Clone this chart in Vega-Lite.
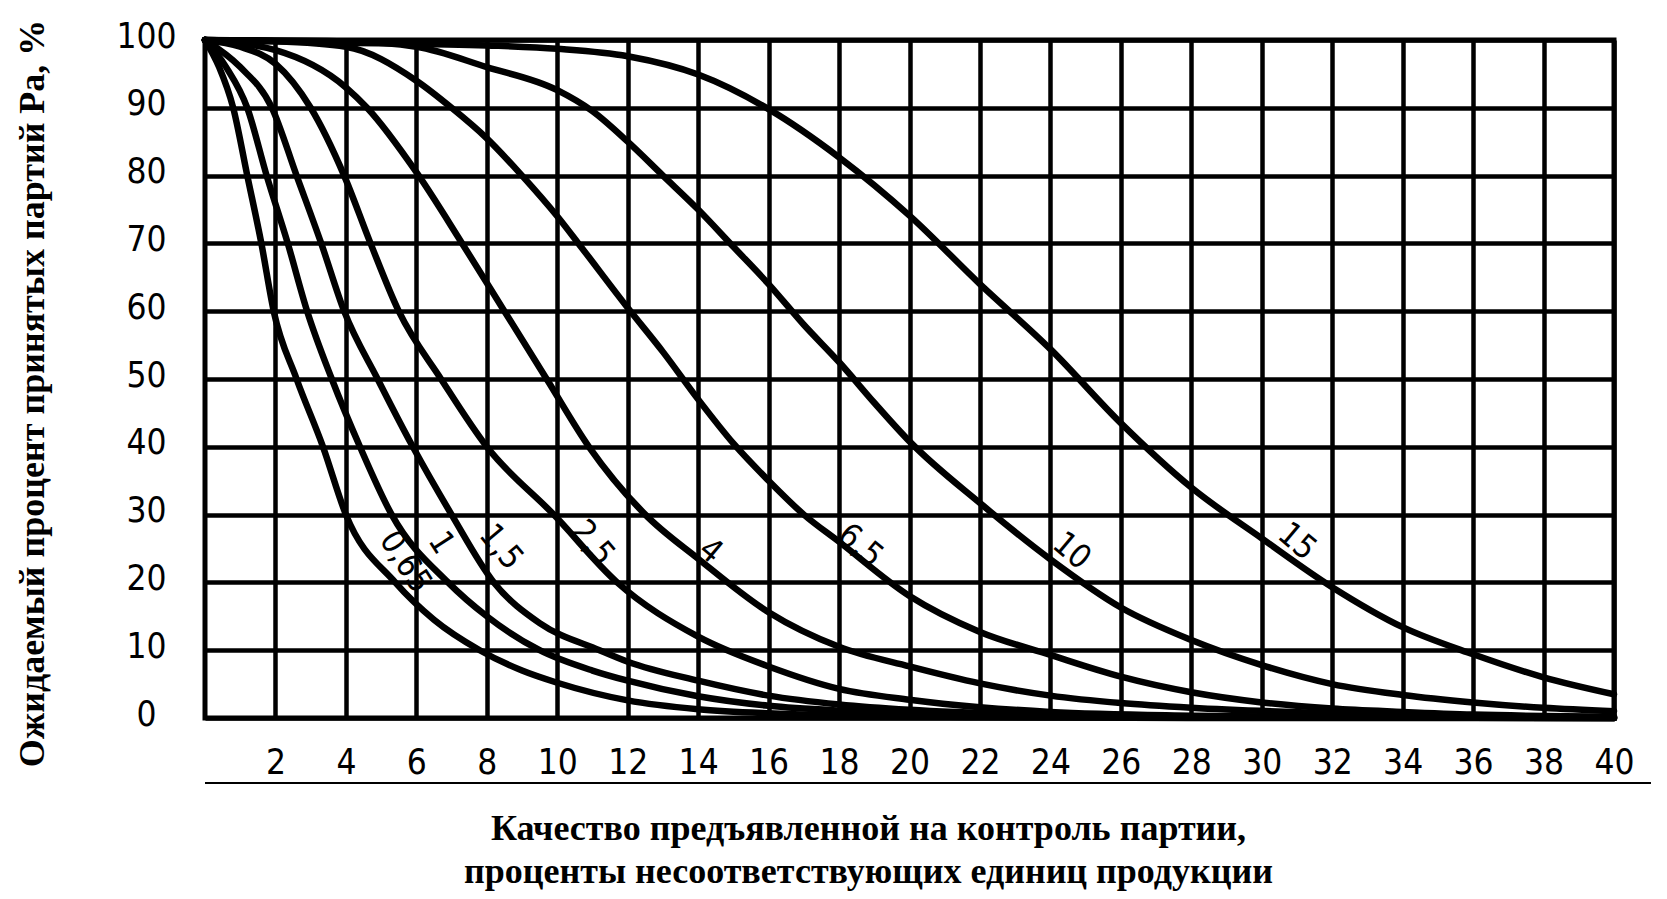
{
  "$schema": "https://vega.github.io/schema/vega-lite/v6.json",
  "width": 1409,
  "height": 678,
  "autosize": {"type": "none"},
  "padding": {"left": 205, "top": 40, "right": 53, "bottom": 181},
  "background": "white",
  "config": {
    "view": {"stroke": "black", "strokeWidth": 5},
    "text": {"font": "DejaVu Sans Condensed, DejaVu Sans, sans-serif"}
  },
  "datasets": {
    "curves": [
      {"aql": "0.65", "p": 0, "pa": 100}, {"aql": "0.65", "p": 0.4, "pa": 96}, {"aql": "0.65", "p": 0.8, "pa": 90}, {"aql": "0.65", "p": 1.2, "pa": 80}, {"aql": "0.65", "p": 1.6, "pa": 70}, {"aql": "0.65", "p": 1.95, "pa": 60}, {"aql": "0.65", "p": 2.6, "pa": 50}, {"aql": "0.65", "p": 3.35, "pa": 40}, {"aql": "0.65", "p": 4, "pa": 30}, {"aql": "0.65", "p": 5.4, "pa": 20}, {"aql": "0.65", "p": 6.5, "pa": 14.5}, {"aql": "0.65", "p": 7.8, "pa": 10}, {"aql": "0.65", "p": 9, "pa": 7}, {"aql": "0.65", "p": 10, "pa": 5.2}, {"aql": "0.65", "p": 12, "pa": 2.6}, {"aql": "0.65", "p": 14, "pa": 1.3}, {"aql": "0.65", "p": 16, "pa": 0.7}, {"aql": "0.65", "p": 18, "pa": 0.4}, {"aql": "0.65", "p": 22, "pa": 0.15}, {"aql": "0.65", "p": 28, "pa": 0}, {"aql": "0.65", "p": 40, "pa": 0},
      {"aql": "1", "p": 0, "pa": 100}, {"aql": "1", "p": 0.6, "pa": 96}, {"aql": "1", "p": 1.2, "pa": 90}, {"aql": "1", "p": 1.75, "pa": 80}, {"aql": "1", "p": 2.35, "pa": 70}, {"aql": "1", "p": 2.9, "pa": 60}, {"aql": "1", "p": 3.6, "pa": 50}, {"aql": "1", "p": 4.4, "pa": 40}, {"aql": "1", "p": 5.3, "pa": 30}, {"aql": "1", "p": 6.9, "pa": 20}, {"aql": "1", "p": 8, "pa": 15}, {"aql": "1", "p": 9.5, "pa": 10}, {"aql": "1", "p": 11, "pa": 7}, {"aql": "1", "p": 12, "pa": 5.5}, {"aql": "1", "p": 14, "pa": 3.2}, {"aql": "1", "p": 16, "pa": 1.8}, {"aql": "1", "p": 18, "pa": 1.1}, {"aql": "1", "p": 20, "pa": 0.7}, {"aql": "1", "p": 24, "pa": 0.3}, {"aql": "1", "p": 30, "pa": 0.1}, {"aql": "1", "p": 40, "pa": 0},
      {"aql": "1.5", "p": 0, "pa": 100}, {"aql": "1.5", "p": 1, "pa": 96}, {"aql": "1.5", "p": 1.9, "pa": 90}, {"aql": "1.5", "p": 2.6, "pa": 80}, {"aql": "1.5", "p": 3.3, "pa": 70}, {"aql": "1.5", "p": 3.95, "pa": 60}, {"aql": "1.5", "p": 4.9, "pa": 50}, {"aql": "1.5", "p": 5.9, "pa": 40}, {"aql": "1.5", "p": 7, "pa": 30}, {"aql": "1.5", "p": 8.2, "pa": 20}, {"aql": "1.5", "p": 9.5, "pa": 14}, {"aql": "1.5", "p": 11.2, "pa": 10}, {"aql": "1.5", "p": 12, "pa": 8.3}, {"aql": "1.5", "p": 14, "pa": 5.5}, {"aql": "1.5", "p": 16, "pa": 3.3}, {"aql": "1.5", "p": 18, "pa": 2}, {"aql": "1.5", "p": 20, "pa": 1.2}, {"aql": "1.5", "p": 24, "pa": 0.5}, {"aql": "1.5", "p": 30, "pa": 0.15}, {"aql": "1.5", "p": 40, "pa": 0},
      {"aql": "2.5", "p": 0, "pa": 100}, {"aql": "2.5", "p": 1, "pa": 99}, {"aql": "2.5", "p": 2, "pa": 96.5}, {"aql": "2.5", "p": 3, "pa": 90}, {"aql": "2.5", "p": 3.95, "pa": 80}, {"aql": "2.5", "p": 4.7, "pa": 70}, {"aql": "2.5", "p": 5.5, "pa": 60}, {"aql": "2.5", "p": 6.7, "pa": 50}, {"aql": "2.5", "p": 8, "pa": 40}, {"aql": "2.5", "p": 9.9, "pa": 30}, {"aql": "2.5", "p": 11.7, "pa": 20}, {"aql": "2.5", "p": 14, "pa": 12}, {"aql": "2.5", "p": 16, "pa": 7.6}, {"aql": "2.5", "p": 18, "pa": 4.3}, {"aql": "2.5", "p": 20, "pa": 2.7}, {"aql": "2.5", "p": 22, "pa": 1.6}, {"aql": "2.5", "p": 24, "pa": 0.9}, {"aql": "2.5", "p": 28, "pa": 0.35}, {"aql": "2.5", "p": 32, "pa": 0.15}, {"aql": "2.5", "p": 40, "pa": 0},
      {"aql": "4", "p": 0, "pa": 100}, {"aql": "4", "p": 2, "pa": 98.5}, {"aql": "4", "p": 4, "pa": 93}, {"aql": "4", "p": 4.6, "pa": 90}, {"aql": "4", "p": 6, "pa": 80.5}, {"aql": "4", "p": 7.3, "pa": 70}, {"aql": "4", "p": 8.5, "pa": 60}, {"aql": "4", "p": 9.7, "pa": 50}, {"aql": "4", "p": 10.9, "pa": 40}, {"aql": "4", "p": 12.5, "pa": 30}, {"aql": "4", "p": 14, "pa": 23.5}, {"aql": "4", "p": 16, "pa": 15.6}, {"aql": "4", "p": 18, "pa": 10.5}, {"aql": "4", "p": 20, "pa": 7.6}, {"aql": "4", "p": 22, "pa": 5.1}, {"aql": "4", "p": 24, "pa": 3.3}, {"aql": "4", "p": 26, "pa": 2.2}, {"aql": "4", "p": 28, "pa": 1.5}, {"aql": "4", "p": 32, "pa": 0.7}, {"aql": "4", "p": 36, "pa": 0.3}, {"aql": "4", "p": 40, "pa": 0.1},
      {"aql": "6.5", "p": 0, "pa": 100}, {"aql": "6.5", "p": 2, "pa": 99.8}, {"aql": "6.5", "p": 4, "pa": 99}, {"aql": "6.5", "p": 6, "pa": 94}, {"aql": "6.5", "p": 7, "pa": 90}, {"aql": "6.5", "p": 8, "pa": 85.5}, {"aql": "6.5", "p": 9, "pa": 80}, {"aql": "6.5", "p": 10, "pa": 74}, {"aql": "6.5", "p": 10.6, "pa": 70}, {"aql": "6.5", "p": 12, "pa": 60.5}, {"aql": "6.5", "p": 13, "pa": 54}, {"aql": "6.5", "p": 14, "pa": 47}, {"aql": "6.5", "p": 15, "pa": 40.5}, {"aql": "6.5", "p": 16, "pa": 35}, {"aql": "6.5", "p": 17, "pa": 30}, {"aql": "6.5", "p": 18, "pa": 26}, {"aql": "6.5", "p": 20, "pa": 18}, {"aql": "6.5", "p": 22, "pa": 12.7}, {"aql": "6.5", "p": 24, "pa": 9.3}, {"aql": "6.5", "p": 26, "pa": 6.1}, {"aql": "6.5", "p": 28, "pa": 3.8}, {"aql": "6.5", "p": 30, "pa": 2.3}, {"aql": "6.5", "p": 32, "pa": 1.4}, {"aql": "6.5", "p": 34, "pa": 0.9}, {"aql": "6.5", "p": 36, "pa": 0.5}, {"aql": "6.5", "p": 40, "pa": 0.2},
      {"aql": "10", "p": 0, "pa": 100}, {"aql": "10", "p": 4, "pa": 99.8}, {"aql": "10", "p": 6, "pa": 99}, {"aql": "10", "p": 8, "pa": 96}, {"aql": "10", "p": 10, "pa": 92.6}, {"aql": "10", "p": 11, "pa": 89.5}, {"aql": "10", "p": 12, "pa": 85}, {"aql": "10", "p": 13, "pa": 80}, {"aql": "10", "p": 14, "pa": 75}, {"aql": "10", "p": 15, "pa": 69.5}, {"aql": "10", "p": 16, "pa": 64}, {"aql": "10", "p": 17, "pa": 58}, {"aql": "10", "p": 18, "pa": 52.5}, {"aql": "10", "p": 19, "pa": 46.5}, {"aql": "10", "p": 20, "pa": 40.8}, {"aql": "10", "p": 22, "pa": 31.7}, {"aql": "10", "p": 24, "pa": 23.4}, {"aql": "10", "p": 26, "pa": 16.3}, {"aql": "10", "p": 28, "pa": 11.5}, {"aql": "10", "p": 30, "pa": 7.8}, {"aql": "10", "p": 32, "pa": 5}, {"aql": "10", "p": 34, "pa": 3.4}, {"aql": "10", "p": 36, "pa": 2.3}, {"aql": "10", "p": 38, "pa": 1.5}, {"aql": "10", "p": 40, "pa": 1},
      {"aql": "15", "p": 0, "pa": 100}, {"aql": "15", "p": 4, "pa": 99.6}, {"aql": "15", "p": 8, "pa": 99.2}, {"aql": "15", "p": 10, "pa": 98.7}, {"aql": "15", "p": 12, "pa": 97.6}, {"aql": "15", "p": 14, "pa": 94.9}, {"aql": "15", "p": 16, "pa": 89.8}, {"aql": "15", "p": 18, "pa": 82.7}, {"aql": "15", "p": 20, "pa": 74.1}, {"aql": "15", "p": 22, "pa": 64}, {"aql": "15", "p": 24, "pa": 54.4}, {"aql": "15", "p": 26, "pa": 43.5}, {"aql": "15", "p": 28, "pa": 34}, {"aql": "15", "p": 30, "pa": 26.5}, {"aql": "15", "p": 32, "pa": 19.3}, {"aql": "15", "p": 34, "pa": 13.4}, {"aql": "15", "p": 36, "pa": 9.4}, {"aql": "15", "p": 38, "pa": 6}, {"aql": "15", "p": 40, "pa": 3.5}
    ],
    "labels": [
      {"label": "0,65", "p": 5.68, "pa": 23},
      {"label": "1", "p": 6.7, "pa": 25.8},
      {"label": "1,5", "p": 8.4, "pa": 25.2},
      {"label": "2,5", "p": 11.0, "pa": 25.8},
      {"label": "4", "p": 14.35, "pa": 24.6},
      {"label": "6,5", "p": 18.6, "pa": 25.4},
      {"label": "10", "p": 24.6, "pa": 24.6},
      {"label": "15", "p": 31.0, "pa": 26}
    ]
  },
  "layer": [
    {
      "data": {"name": "curves"},
      "mark": {"type": "line", "color": "black", "strokeWidth": 6.5, "interpolate": "monotone", "strokeCap": "round", "strokeJoin": "round"},
      "encoding": {
        "x": {
          "field": "p", "type": "quantitative",
          "scale": {"domain": [0, 40], "nice": false, "zero": false},
          "axis": {
            "values": [2, 4, 6, 8, 10, 12, 14, 16, 18, 20, 22, 24, 26, 28, 30, 32, 34, 36, 38, 40],
            "grid": true, "gridColor": "black", "gridWidth": 4.5, "gridOpacity": 1,
            "ticks": false, "domain": false,
            "labelFont": "DejaVu Sans Condensed, DejaVu Sans, sans-serif",
            "labelFontSize": 35, "labelColor": "black", "labelPadding": 27,
            "labelBaseline": "top", "labelFlush": false, "labelOverlap": false,
            "title": ["Качество предъявленной на контроль партии,", "проценты несоответствующих единиц продукции"],
            "titleFont": "Liberation Serif", "titleFontSize": 36, "titleFontWeight": "bold",
            "titleColor": "black", "titleX": 663, "titleY": 93, "titleBaseline": "top",
            "titleLineHeight": 43, "titleAlign": "center"
          }
        },
        "y": {
          "field": "pa", "type": "quantitative",
          "scale": {"domain": [0, 100], "nice": false},
          "axis": {
            "values": [0, 10, 20, 30, 40, 50, 60, 70, 80, 90, 100],
            "grid": true, "gridColor": "black", "gridWidth": 4.5, "gridOpacity": 1,
            "ticks": false, "domain": false,
            "labelFont": "DejaVu Sans Condensed, DejaVu Sans, sans-serif",
            "labelFontSize": 35, "labelColor": "black", "labelPadding": 59,
            "labelAlign": "center", "labelBaseline": "middle", "labelOffset": -4,
            "labelFlush": false, "labelOverlap": false,
            "title": "Ожидаемый процент принятых партий Ра, %",
            "titleFont": "Liberation Serif", "titleFontSize": 36, "titleFontWeight": "bold",
            "titleColor": "black", "titleX": -173, "titleY": 353, "titleAngle": -90,
            "titleBaseline": "middle", "titleAlign": "center"
          }
        },
        "detail": {"field": "aql", "type": "nominal"}
      }
    },
    {
      "data": {"name": "labels"},
      "transform": [{"filter": "datum.label == '0,65' || datum.label == '1'"}],
      "mark": {"type": "text", "angle": 57, "fontSize": 33, "color": "black", "align": "center", "baseline": "middle"},
      "encoding": {
        "x": {"field": "p", "type": "quantitative"},
        "y": {"field": "pa", "type": "quantitative"},
        "text": {"field": "label"}
      }
    },
    {
      "data": {"name": "labels"},
      "transform": [{"filter": "datum.label == '1,5' || datum.label == '2,5'"}],
      "mark": {"type": "text", "angle": 50, "fontSize": 33, "color": "black", "align": "center", "baseline": "middle"},
      "encoding": {
        "x": {"field": "p", "type": "quantitative"},
        "y": {"field": "pa", "type": "quantitative"},
        "text": {"field": "label"}
      }
    },
    {
      "data": {"name": "labels"},
      "transform": [{"filter": "datum.label == '4' || datum.label == '6,5' || datum.label == '10' || datum.label == '15'"}],
      "mark": {"type": "text", "angle": 40, "fontSize": 33, "color": "black", "align": "center", "baseline": "middle"},
      "encoding": {
        "x": {"field": "p", "type": "quantitative"},
        "y": {"field": "pa", "type": "quantitative"},
        "text": {"field": "label"}
      }
    },
    {
      "data": {"values": [{}]},
      "mark": {"type": "rule", "clip": false, "color": "black", "strokeWidth": 2},
      "encoding": {
        "x": {"datum": 0},
        "x2": {"datum": 41.05},
        "y": {"datum": -9.6}
      }
    }
  ]
}
